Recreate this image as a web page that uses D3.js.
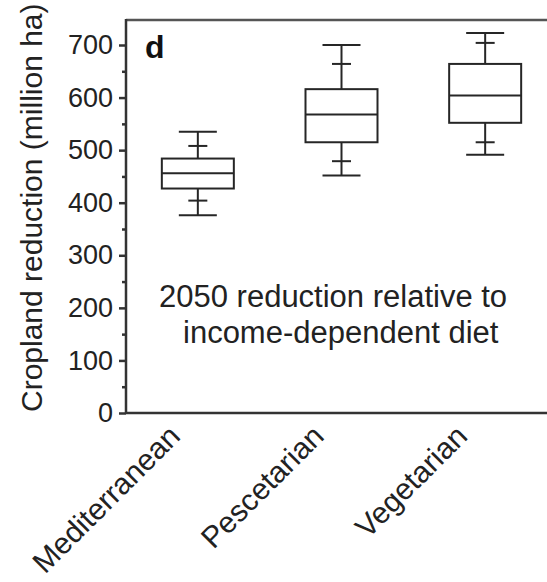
<!DOCTYPE html>
<html lang="en">
<head>
    <meta charset="UTF-8">
    <title>Cropland reduction</title>
    <script src="https://d3js.org/d3.v7.min.js"></script>
    <style>
        body {
            margin: 0;
            background: #fff;
            font-family: "Liberation Sans", Arial, sans-serif;
        }
        svg { display: block; }
        .box line, .box rect {
            stroke: #262626;
            stroke-width: 2px;
            fill: none;
        }
        .axis path, .axis line {
            stroke: #333;
            stroke-width: 2.5px;
        }
        .axis text {
            font-family: "Liberation Sans", Arial, sans-serif;
            font-size: 27px;
            fill: #222;
        }
    </style>
</head>
<body>
    <svg width="547" height="582"></svg>

    <script>
        // diets and box statistics (million ha)
        const categories = ["Mediterranean", "Pescetarian", "Vegetarian"];
        const whiskerLow  = [376, 452, 491];
        const lowTick     = [404, 479, 515];
        const q1          = [427, 515, 552];
        const median      = [456, 568, 604];
        const q3          = [484, 616, 664];
        const highTick    = [508, 664, 704];
        const whiskerHigh = [535, 700, 723];

        const majorTicks = [0, 100, 200, 300, 400, 500, 600, 700];
        const minorTicks = [50, 150, 250, 350, 450, 550, 650];

        const plotLeft = 126, plotTop = 20, plotBottom = 413, plotRight = 557;
        const boxW = 72, capW = 38, innerW = 19;

        const svg = d3.select("svg");

        const x = d3.scaleBand().domain(categories).range([plotLeft, plotRight]);
        const y = d3.scaleLinear().domain([0, 700]).range([plotBottom, 45]);

        const rows = categories.map((c, i) => ({
            name: c, lo: whiskerLow[i], loT: lowTick[i], q1: q1[i],
            med: median[i], q3: q3[i], hiT: highTick[i], hi: whiskerHigh[i]
        }));

        // frame: top line and bottom line run off the right edge
        svg.append("line")
            .attr("x1", plotLeft).attr("x2", plotRight + 20)
            .attr("y1", plotTop).attr("y2", plotTop)
            .attr("stroke", "#555").attr("stroke-width", 2.5);
        svg.append("line")
            .attr("x1", plotLeft).attr("x2", plotRight + 20)
            .attr("y1", plotBottom).attr("y2", plotBottom)
            .attr("stroke", "#333").attr("stroke-width", 2.5);

        // y axis, major and minor ticks
        const yAxis = svg.append("g")
            .attr("class", "axis")
            .attr("transform", `translate(${plotLeft},0)`)
            .call(d3.axisLeft(y).tickValues(majorTicks).tickSize(7).tickPadding(6).tickFormat(d3.format("d")));
        yAxis.select(".domain").remove();
        svg.append("g")
            .attr("class", "axis")
            .attr("transform", `translate(${plotLeft},0)`)
            .call(d3.axisLeft(y).tickValues(minorTicks).tickSize(4).tickFormat(""))
            .select(".domain").remove();
        svg.append("line")
            .attr("x1", plotLeft).attr("x2", plotLeft)
            .attr("y1", plotTop - 1).attr("y2", plotBottom + 1)
            .attr("stroke", "#333").attr("stroke-width", 2.5);

        // boxes
        const box = svg.append("g").attr("class", "box")
            .selectAll("g")
            .data(rows)
            .enter().append("g")
            .attr("transform", d => `translate(${x(d.name) + x.bandwidth() / 2},0)`);

        box.append("line")
            .attr("x1", 0).attr("x2", 0)
            .attr("y1", d => y(d.hi)).attr("y2", d => y(d.q3));
        box.append("line")
            .attr("x1", 0).attr("x2", 0)
            .attr("y1", d => y(d.q1)).attr("y2", d => y(d.lo));
        box.append("rect")
            .attr("x", -boxW / 2).attr("width", boxW)
            .attr("y", d => y(d.q3))
            .attr("height", d => y(d.q1) - y(d.q3));
        box.append("line")
            .attr("x1", -boxW / 2).attr("x2", boxW / 2)
            .attr("y1", d => y(d.med)).attr("y2", d => y(d.med));
        [["hi", capW], ["lo", capW], ["hiT", innerW], ["loT", innerW]].forEach(([k, w]) => {
            box.append("line")
                .attr("x1", -w / 2).attr("x2", w / 2)
                .attr("y1", d => y(d[k])).attr("y2", d => y(d[k]));
        });

        // category labels
        svg.append("g")
            .selectAll("text")
            .data(categories)
            .enter().append("text")
            .attr("transform", d => `translate(${x(d) + x.bandwidth() / 2 - 16},438) rotate(-45)`)
            .attr("text-anchor", "end")
            .attr("font-size", 30)
            .attr("fill", "#222")
            .text(d => d);

        // y title
        svg.append("text")
            .attr("transform", "translate(42,412) rotate(-90)")
            .attr("font-size", 30)
            .attr("fill", "#222")
            .text("Cropland reduction (million ha)");

        // panel letter
        svg.append("text")
            .attr("x", 145).attr("y", 58)
            .attr("font-size", 32)
            .attr("font-weight", "bold")
            .attr("fill", "#111")
            .text("d");

        // note
        const note = svg.append("text")
            .attr("font-size", 31)
            .attr("fill", "#222");
        note.append("tspan").attr("x", 159).attr("y", 307).text("2050 reduction relative to");
        note.append("tspan").attr("x", 183).attr("y", 343).text("income-dependent diet");
    </script>
</body>
</html>
